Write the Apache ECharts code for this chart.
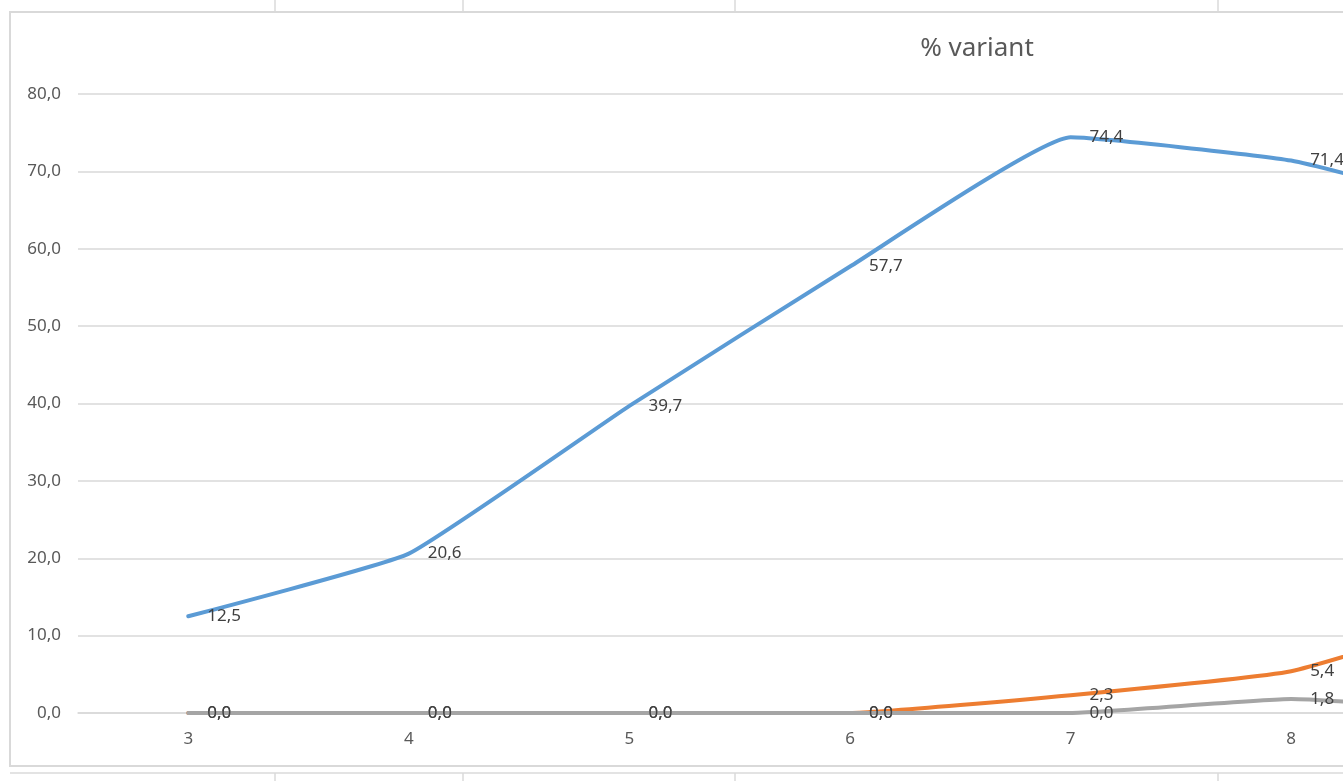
<!DOCTYPE html>
<html>
<head>
<meta charset="utf-8">
<style>
  html, body { margin: 0; padding: 0; background: #ffffff; }
  #chart { width: 1343px; height: 781px; }
</style>
<script src="https://cdn.jsdelivr.net/npm/echarts@6/dist/echarts.min.js"></script>
</head>
<body>
<div id="chart"></div>
<script>
// Categories (the last one lies past the right edge of the cropped picture)
const categories = ['3', '4', '5', '6', '7', '8', '9'];
// Series values (category 9 values are estimated from the line direction at the crop edge)
const seriesBlue   = [12.5, 20.6, 39.7, 57.7, 74.4, 71.4, 64.0];
const seriesOrange = [0.0, 0.0, 0.0, 0.0, 2.3, 5.4, 14.0];
const seriesGray   = [0.0, 0.0, 0.0, 0.0, 0.0, 1.8, 0.0];
const yTicks = { min: 0, max: 80, interval: 10 };
const titleText = '% variant';

const fmt = v => Number(v).toFixed(1).replace('.', ',');
const FONT = 'Noto Sans';

const chart = echarts.init(document.getElementById('chart'), null, { renderer: 'canvas' });

function lineSeries(name, data, color, z) {
  return {
    name: name,
    type: 'line',
    data: data,
    smooth: 0.12,
    symbol: 'circle',
    showSymbol: true,
    symbolSize: 0.01,
    z: z,
    lineStyle: { color: color, width: 4, cap: 'round', join: 'round' },
    itemStyle: { color: color },
    label: {
      show: true,
      position: 'right',
      distance: 19,
      offset: [0, 4],
      color: '#404040',
      fontFamily: FONT,
      fontSize: 17,
      formatter: p => fmt(p.value)
    },
    labelLayout: { hideOverlap: false },
    emphasis: { disabled: true },
    animation: false
  };
}

const option = {
  backgroundColor: '#ffffff',
  animation: false,
  title: {
    text: titleText,
    left: 972,
    top: 31,
    textAlign: 'center',
    textStyle: { color: '#595959', fontFamily: FONT, fontSize: 26, fontWeight: 'normal' }
  },
  grid: {
    left: 78,
    top: 94,
    bottom: 68,
    right: -279,
    containLabel: false,
    outerBoundsMode: 'none'
  },
  xAxis: {
    type: 'category',
    data: categories,
    boundaryGap: true,
    axisLine: { show: true, lineStyle: { color: '#d9d9d9', width: 1.5 } },
    axisTick: { show: false },
    axisLabel: { color: '#595959', fontFamily: FONT, fontSize: 17, margin: 18 },
    splitLine: { show: false }
  },
  yAxis: {
    type: 'value',
    min: yTicks.min,
    max: yTicks.max,
    interval: yTicks.interval,
    axisLine: { show: false },
    axisTick: { show: false },
    axisLabel: { color: '#595959', fontFamily: FONT, fontSize: 17, margin: 17, formatter: v => fmt(v) },
    splitLine: { show: true, lineStyle: { color: '#d9d9d9', width: 1.5 } }
  },
  graphic: [
    // chart area border
    { type: 'rect', silent: true, z: -1, shape: { x: 10, y: 12, width: 1400, height: 754 },
      style: { fill: 'none', stroke: '#d9d9d9', lineWidth: 2 } },
    // spreadsheet cell lines outside the chart
    { type: 'line', silent: true, shape: { x1: 10, y1: 773, x2: 1343, y2: 773 }, style: { stroke: '#dadada', lineWidth: 1.5 } },
    { type: 'line', silent: true, shape: { x1: 275, y1: 773, x2: 275, y2: 781 }, style: { stroke: '#dadada', lineWidth: 1.5 } },
    { type: 'line', silent: true, shape: { x1: 463, y1: 773, x2: 463, y2: 781 }, style: { stroke: '#dadada', lineWidth: 1.5 } },
    { type: 'line', silent: true, shape: { x1: 735, y1: 773, x2: 735, y2: 781 }, style: { stroke: '#dadada', lineWidth: 1.5 } },
    { type: 'line', silent: true, shape: { x1: 1218, y1: 773, x2: 1218, y2: 781 }, style: { stroke: '#dadada', lineWidth: 1.5 } },
    { type: 'line', silent: true, shape: { x1: 275, y1: 0, x2: 275, y2: 11 }, style: { stroke: '#dadada', lineWidth: 1.5 } },
    { type: 'line', silent: true, shape: { x1: 463, y1: 0, x2: 463, y2: 11 }, style: { stroke: '#dadada', lineWidth: 1.5 } },
    { type: 'line', silent: true, shape: { x1: 735, y1: 0, x2: 735, y2: 11 }, style: { stroke: '#dadada', lineWidth: 1.5 } },
    { type: 'line', silent: true, shape: { x1: 1218, y1: 0, x2: 1218, y2: 11 }, style: { stroke: '#dadada', lineWidth: 1.5 } }
  ],
  series: [
    lineSeries('blue', seriesBlue, '#5b9bd5', 2),
    lineSeries('orange', seriesOrange, '#ed7d31', 3),
    lineSeries('gray', seriesGray, '#a5a5a5', 4)
  ]
};

chart.setOption(option);
</script>
</body>
</html>
